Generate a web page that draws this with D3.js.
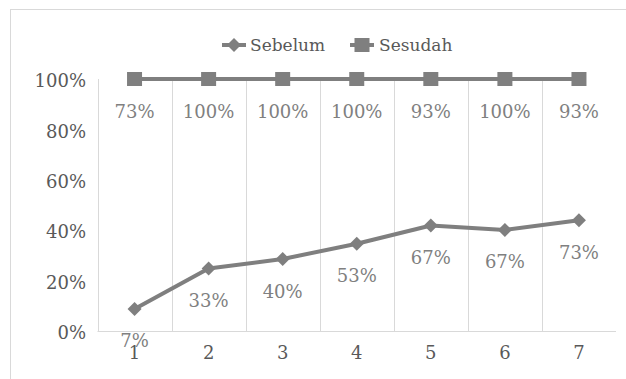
<!DOCTYPE html>
<html><head><meta charset="utf-8">
<script src="https://cdn.jsdelivr.net/npm/d3@7"></script>
<style>body{margin:0;background:#fff}svg{display:block}</style>
</head><body>
<svg id="c" width="626" height="379"></svg>
<script>
const categories = ["1","2","3","4","5","6","7"];
const sebelum = [7,33,40,53,67,67,73];
const sesudah = [73,100,100,100,93,100,93];
const yTicks = [0,0.2,0.4,0.6,0.8,1.0];
const seriesNames = ["Sebelum","Sesudah"];

const svg = d3.select("#c");
const font = "DejaVu Serif";
const gray = "#7f7f7f";

// chart border
svg.append("rect").attr("x",10.5).attr("y",9.5).attr("width",700).attr("height",500)
  .attr("fill","none").attr("stroke","#d9d9d9");

const x = d3.scaleBand().domain(categories).range([97.5,616]);
const y = d3.scaleLinear().domain([0,1]).range([331,79]);

// 100% stacked values
const stack1 = sebelum.map((s,i)=>s/(s+sesudah[i]));
const stack2 = sebelum.map((s,i)=>(s+sesudah[i])/(s+sesudah[i]));

// vertical gridlines
const bounds = categories.map(c=>x(c));
svg.append("g").selectAll("line").data(bounds).join("line")
  .attr("x1",d=>Math.round(d)+0.5).attr("x2",d=>Math.round(d)+0.5)
  .attr("y1",y(1)).attr("y2",y(0)).attr("stroke","#d9d9d9");
// bottom axis line
svg.append("line").attr("x1",x.range()[0]).attr("x2",x.range()[1])
  .attr("y1",y(0)+0.5).attr("y2",y(0)+0.5).attr("stroke","#d9d9d9");

// y axis labels
const yAxis = d3.axisLeft(y).tickValues(yTicks).tickFormat(d3.format(".0%")).tickSize(0).tickPadding(0);
const gy = svg.append("g").attr("transform","translate(86,2)").call(yAxis);
gy.select(".domain").remove();
gy.selectAll("text").attr("font-family",font).attr("font-size",18).attr("fill","#595959");

// x axis labels
const xAxis = d3.axisBottom(x).tickSize(0).tickPadding(0);
const gx = svg.append("g").attr("transform",`translate(0,${y(0)+15})`).call(xAxis);
gx.select(".domain").remove();
gx.selectAll("text").attr("font-family",font).attr("font-size",18).attr("fill","#595959");

const cx = d => x(d)+x.bandwidth()/2;
const line = d3.line().x((d,i)=>cx(categories[i])).y(d=>y(d));

[stack2, stack1].forEach(s=>{
  svg.append("path").datum(s).attr("d",line).attr("fill","none")
    .attr("stroke",gray).attr("stroke-width",4).attr("stroke-linejoin","round");
});

// square markers
svg.append("g").selectAll("rect").data(stack2).join("rect")
  .attr("x",(d,i)=>cx(categories[i])-7.5).attr("y",d=>y(d)-7).attr("width",15).attr("height",14)
  .attr("fill",gray);
// diamond markers
const diamond = "M0,-7L7,0L0,7L-7,0Z";
svg.append("g").selectAll("path").data(stack1).join("path")
  .attr("d",diamond).attr("transform",(d,i)=>`translate(${cx(categories[i])},${y(d)})`)
  .attr("fill",gray);

// data labels
function labels(vals, pos){
  svg.append("g").selectAll("text").data(vals).join("text")
    .attr("x",(d,i)=>cx(categories[i])).attr("y",(d,i)=>y(pos[i])+32)
    .attr("text-anchor","middle").attr("dominant-baseline","central")
    .attr("font-family",font).attr("font-size",18).attr("fill","#808080")
    .text(d=>d+"%");
}
labels(sesudah, stack2);
labels(sebelum, stack1);

// legend
const lg = svg.append("g").attr("font-family",font).attr("font-size",17).attr("fill","#595959");
lg.append("line").attr("x1",222).attr("x2",246).attr("y1",45).attr("y2",45).attr("stroke",gray).attr("stroke-width",4);
lg.append("path").attr("d",diamond).attr("transform","translate(234,45)").attr("fill",gray);
lg.append("text").attr("x",250).attr("y",45).attr("dominant-baseline","central").text(seriesNames[0]);
lg.append("line").attr("x1",350).attr("x2",374).attr("y1",45).attr("y2",45).attr("stroke",gray).attr("stroke-width",4);
lg.append("rect").attr("x",354.5).attr("y",38).attr("width",15).attr("height",14).attr("fill",gray);
lg.append("text").attr("x",379).attr("y",45).attr("dominant-baseline","central").text(seriesNames[1]);
</script>
</body></html>
